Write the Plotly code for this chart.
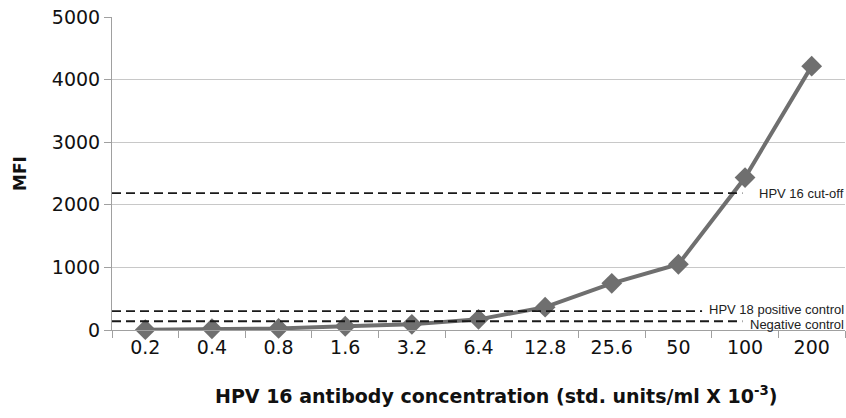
import plotly.graph_objects as go

concentrations = ["0.2", "0.4", "0.8", "1.6", "3.2", "6.4", "12.8", "25.6", "50", "100", "200"]
mfi = [5, 20, 25, 60, 90, 170, 365, 745, 1050, 2435, 4215]

ref_names = ["HPV 16 cut-off", "HPV 18 positive control", "Negative control"]
ref_values = [2185, 300, 140]
ref_line_end = [0.860, 0.805, 0.860]  # fraction of plot width where dashes stop
ref_label_shift = [0, 2, -3]  # small pixel nudges so the stacked labels don't collide

y_ticks = [0, 1000, 2000, 3000, 4000, 5000]

x_title = "<b>HPV 16 antibody concentration (std. units/ml X 10<sup>-3</sup>)</b>"

font_family = "DejaVu Sans, sans-serif"

fig = go.Figure()
fig.add_trace(go.Scatter(
    x=concentrations, y=mfi, mode="lines+markers",
    line=dict(color="#6f6f6f", width=4),
    marker=dict(symbol="diamond", size=16, color="#6f6f6f"),
    showlegend=False, cliponaxis=False, hoverinfo="skip",
))

for name, val, xe, ys in zip(ref_names, ref_values, ref_line_end, ref_label_shift):
    fig.add_shape(type="line", xref="paper", yref="y", x0=0, x1=xe, y0=val, y1=val,
                  line=dict(color="#1a1a1a", width=1.8, dash="9px,5px"))
    fig.add_annotation(text=name, xref="paper", yref="y", x=1.0, y=val, yshift=ys,
                       xanchor="right", yanchor="middle", showarrow=False,
                       font=dict(size=13, color="#222", family="Liberation Sans, Arial"),
                       borderpad=0)

fig.add_annotation(text=x_title, xref="paper", yref="paper", x=0.524, y=-0.208,
                   xanchor="center", yanchor="middle", showarrow=False,
                   font=dict(size=19, color="#111", family=font_family))

fig.update_layout(
    width=846, height=418,
    margin=dict(l=112, r=1, t=17, b=88),
    paper_bgcolor="white", plot_bgcolor="white",
    font=dict(family=font_family, color="#111"),
)
fig.update_xaxes(
    type="category", range=[-0.5, 10.5], automargin=False,
    showline=True, linecolor="#a0a0a0", linewidth=1,
    ticks="outside", tickson="boundaries", ticklen=7, tickcolor="#a0a0a0",
    tickfont=dict(size=19, color="#111"),
    showgrid=False,
)
fig.update_yaxes(
    range=[0, 5000], tickvals=y_ticks, automargin=False,
    showline=True, linecolor="#a0a0a0", linewidth=1,
    ticks="outside", ticklen=7, tickcolor="#a0a0a0",
    showgrid=True, gridcolor="#c8c8c8", gridwidth=1,
    zeroline=False,
    tickfont=dict(size=19, color="#111"),
    title=dict(text="<b>MFI</b>", font=dict(size=17, color="#111"), standoff=20),
)

fig.write_html(
    "out.html",
    config={"displayModeBar": False},
    post_script="document.body.style.margin='0';document.body.style.overflow='hidden';",
)
